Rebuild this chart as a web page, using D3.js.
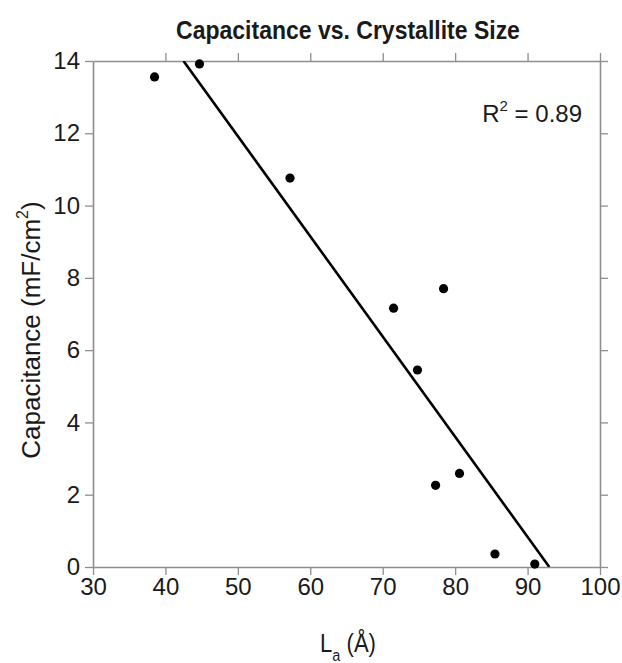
<!DOCTYPE html>
<html>
<head>
<meta charset="utf-8">
<script src="https://cdn.jsdelivr.net/npm/d3@7"></script>
<style>
  body{margin:0;background:#fff;}
  svg text{font-family:"Liberation Sans",Arial,sans-serif;fill:#1a1a1a;}
</style>
</head>
<body>
<div id="chart"></div>
<script>
// crystallite size La (Å)
var sizes=[38.5,44.7,57.2,71.5,78.4,74.8,77.3,80.6,85.5,91.0]
// capacitance (mF/cm2)
var caps=[13.56,13.92,10.76,7.16,7.70,5.45,2.26,2.59,0.36,0.08]
// linear fit, y = slope*x + intercept
var fitSlope=-0.2772
var fitIntercept=25.78
var xTicks=[30,40,50,60,70,80,90,100]
var yTicks=[0,2,4,6,8,10,12,14]

var screen={width:622,height:663}
var margin={top:61,right:22,bottom:96,left:93}
var w=screen.width-margin.left-margin.right
var h=screen.height-margin.top-margin.bottom

var svg=d3.select("#chart").append("svg")
    .attr("width",screen.width)
    .attr("height",screen.height)

var x=d3.scaleLinear().domain([30,100]).range([0,w])
var y=d3.scaleLinear().domain([0,14]).range([h,0])

var g=svg.append("g").attr("transform","translate("+margin.left+","+margin.top+")")

var axisColor="#8e8e8e"
function styleAxis(sel){
  sel.selectAll("path.domain").attr("stroke",axisColor).attr("stroke-width",1.6)
  sel.selectAll(".tick line").attr("stroke",axisColor).attr("stroke-width",1.3)
}

var leftAx=g.append("g").call(d3.axisLeft(y).tickValues(yTicks).tickSize(8).tickSizeOuter(0).tickPadding(5))
var bottomAx=g.append("g").attr("transform","translate(0,"+h+")")
    .call(d3.axisBottom(x).tickValues(xTicks).tickSize(8).tickSizeOuter(0).tickPadding(3))
var topAx=g.append("g").call(d3.axisTop(x).tickValues(xTicks.slice(1)).tickSize(8).tickSizeOuter(0).tickFormat(""))
var rightAx=g.append("g").attr("transform","translate("+w+",0)")
    .call(d3.axisRight(y).tickValues(yTicks).tickSize(8).tickSizeOuter(0).tickFormat(""))
styleAxis(leftAx)
styleAxis(bottomAx)
styleAxis(topAx)
styleAxis(rightAx)
leftAx.selectAll("text").style("font-size","24px").attr("fill","#1a1a1a")
bottomAx.selectAll("text").style("font-size","24px").attr("fill","#1a1a1a")

// fit line clipped to plot box
svg.append("clipPath").attr("id","plotclip").append("rect")
    .attr("width",w).attr("height",h)
var x0=(14-fitIntercept)/fitSlope, x1=(0-fitIntercept)/fitSlope
g.append("line")
    .attr("clip-path","url(#plotclip)")
    .attr("x1",x(x0)).attr("y1",y(fitSlope*x0+fitIntercept))
    .attr("x2",x(x1)).attr("y2",y(fitSlope*x1+fitIntercept))
    .attr("stroke","#000").attr("stroke-width",2.6)

g.selectAll("circle.pt")
    .data(sizes)
    .enter().append("circle")
    .attr("class","pt")
    .attr("cx",function(d){return x(d)})
    .attr("cy",function(d,i){return y(caps[i])})
    .attr("r",4.6)
    .attr("fill","#000")

// title (a bit condensed)
svg.append("text")
    .attr("transform","translate(348,39) scale(0.92,1)")
    .attr("text-anchor","middle")
    .style("font-size","25px").style("font-weight","bold")
    .text("Capacitance vs. Crystallite Size")

// R2
var r2=svg.append("text").attr("x",582).attr("y",122).attr("text-anchor","end").style("font-size","24px")
r2.append("tspan").text("R")
r2.append("tspan").attr("dy",-11).style("font-size","15px").text("2")
r2.append("tspan").attr("dy",11).text(" = 0.89")

// y label
var yl=svg.append("text")
    .attr("transform","translate(40,330) rotate(-90)")
    .attr("text-anchor","middle")
    .style("font-size","26px")
yl.append("tspan").text("Capacitance (mF/cm")
yl.append("tspan").attr("dy",-12).style("font-size","16px").text("2")
yl.append("tspan").attr("dy",12).text(")")

// x label
var xl=svg.append("text")
    .attr("transform","translate(348,652) scale(0.85,1)")
    .attr("text-anchor","middle")
    .style("font-size","26px")
xl.append("tspan").text("L")
xl.append("tspan").attr("dy",9).style("font-size","17px").text("a")
xl.append("tspan").attr("dy",-9).text(" (Å)")
</script>
</body>
</html>
